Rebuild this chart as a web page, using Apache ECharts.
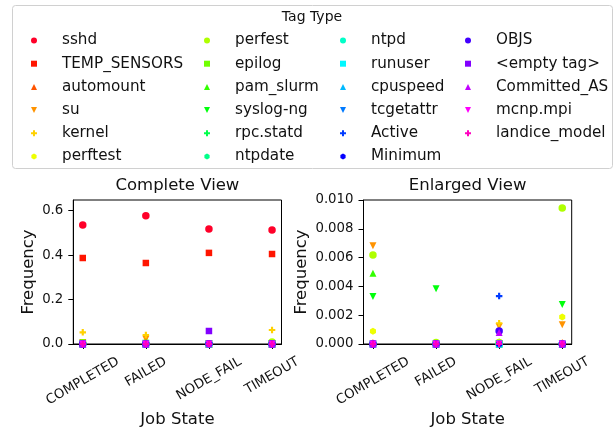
<!DOCTYPE html>
<html><head><meta charset="utf-8">
<script src="https://cdn.jsdelivr.net/npm/echarts@6/dist/echarts.min.js"></script>
<style>html,body{margin:0;padding:0;background:#fff}#c{width:615px;height:432px}</style>
</head><body><div id="c"></div>
<script>
// ---------------- DATA ----------------
const states = ['COMPLETED', 'FAILED', 'NODE_FAIL', 'TIMEOUT'];
const tags = ['sshd','TEMP_SENSORS','automount','su','kernel','perftest','perfest','epilog','pam_slurm','syslog-ng','rpc.statd','ntpdate','ntpd','runuser','cpuspeed','tcgetattr','Active','Minimum','OBJS','<empty tag>','Committed_AS','mcnp.mpi','landice_model'];
// frequency of each tag per job state (COMPLETED, FAILED, NODE_FAIL, TIMEOUT)
const fSshd         = [0.536, 0.577, 0.5175, 0.513];
const fTempSensors  = [0.387, 0.3645, 0.410, 0.405];
const fAutomount    = [0.0001, 0.013, 0.00016, 0.0001];
const fSu           = [0.00683, 0.021, 0.0012, 0.00134];
const fKernel       = [0.0525, 0.0405, 0.00144, 0.063];
const fPerftest     = [0.00088, 0.0001, 0.0001, 0.00188];
const fPerfest      = [0.00618, 0.0001, 0.0001, 0.00944];
const fEpilog       = [0, 0, 0, 0];
const fPamSlurm     = [0.00491, 0, 0, 0];
const fSyslogNg     = [0.00329, 0.00384, 0, 0.00275];
const fRpcStatd     = [0, 0, 0, 0];
const fNtpdate      = [0, 0, 0, 0];
const fNtpd         = [0, 0, 0, 0];
const fRunuser      = [0, 0, 0, 0];
const fCpuspeed     = [0, 0, 0, 0];
const fTcgetattr    = [0, 0, 0, 0];
const fActive       = [0, 0, 0.00333, 0];
const fMinimum      = [0, 0, 0, 0];
const fObjs         = [0, 0, 0.0009, 0];
const fEmptyTag     = [0, 0, 0.0585, 0];
const fCommittedAS  = [0, 0, 0.0008, 0];
const fMcnpMpi      = [0, 0, 0, 0];
const fLandiceModel = [0, 0, 0, 0];
const tagValues = [fSshd,fTempSensors,fAutomount,fSu,fKernel,fPerftest,fPerfest,fEpilog,fPamSlurm,fSyslogNg,fRpcStatd,fNtpdate,fNtpd,fRunuser,fCpuspeed,fTcgetattr,fActive,fMinimum,fObjs,fEmptyTag,fCommittedAS,fMcnpMpi,fLandiceModel];
const completeTicks = [0, 0.2, 0.4, 0.6];
const enlargedTicks = [0, 0.002, 0.004, 0.006, 0.008, 0.010];
const stateTicks = [0, 1, 2, 3];

// ---------------- STYLE ----------------
const colors = ['#ff0029','#ff1500','#ff5400','#ff9300','#ffd100','#eeff00','#afff00','#71ff00','#32ff00','#00ff0c','#00ff4b','#00ff89','#00ffc8','#00f8ff','#00b9ff','#007aff','#003bff','#0400ff','#4300ff','#8200ff','#c100ff','#ff00fe','#ff00bf'];
const markerCycle = [
  'circle',
  'path://M-1,-1H1V1H-1Z',
  'path://M0,-1L1,1L-1,1Z',
  'path://M-1,-1L1,-1L0,1Z',
  'path://M-1,-3H1V-1H3V1H1V3H-1V1H-3V-1H-1Z',
  'path://M0,-1L0.866,-0.5L0.866,0.5L0,1L-0.866,0.5L-0.866,-0.5Z'
];
const markerSize = [7.5, 6.5, 7, 7, 6.5, 7];
const FONT = 'DejaVu Sans';
const tickFont = 13.3;

// rotated x tick labels: matplotlib centres the rotated box under the tick, top-aligned
const ctx = document.createElement('canvas').getContext('2d');
ctx.font = tickFont + 'px "' + FONT + '"';
const rich = {};
states.forEach((s, i) => {
  const w = ctx.measureText(s).width;
  const h = tickFont * 1.17;
  const H = w * 0.5 + h * 0.866;
  const d = H / 2;
  rich['s' + i] = {padding: [d * 1.732, d, 0, 0], fontSize: tickFont, fontFamily: FONT, color: '#111'};
});

function xAxisFor(gi) {
  return {
    type: 'value', gridIndex: gi, min: -0.15, max: 3.15,
    name: 'Job State', nameLocation: 'middle', nameGap: 67,
    nameTextStyle: {fontSize: 16.5, fontFamily: FONT, color: '#111'},
    axisLine: {show: true, onZero: false, lineStyle: {color: '#000', width: 1}},
    axisTick: {show: true, inside: false, length: 5, customValues: stateTicks, lineStyle: {color: '#000'}},
    splitLine: {show: false},
    axisLabel: {
      customValues: stateTicks, rotate: 30, margin: 10, align: 'center', verticalAlign: 'middle',
      formatter: v => { const i = Math.round(v); return '{s' + i + '|' + states[i] + '}'; },
      rich: rich
    }
  };
}
function yAxisFor(gi, max, ticks, digits, gap) {
  return {
    type: 'value', gridIndex: gi, min: 0, max: max,
    name: 'Frequency', nameLocation: 'middle', nameGap: gap, nameRotate: 90,
    nameTextStyle: {fontSize: 16.5, fontFamily: FONT, color: '#111'},
    axisLine: {show: true, onZero: false, lineStyle: {color: '#000', width: 1}},
    axisTick: {show: true, inside: false, length: 5, customValues: ticks, lineStyle: {color: '#000'}},
    splitLine: {show: false},
    axisLabel: {customValues: ticks, margin: 10, fontSize: tickFont, fontFamily: FONT, color: '#111',
      formatter: v => v.toFixed(digits)}
  };
}

const series = [];
[0, 1].forEach(gi => {
  tags.forEach((t, i) => {
    series.push({
      type: 'scatter', name: t, xAxisIndex: gi, yAxisIndex: gi,
      symbol: markerCycle[i % 6], symbolSize: markerSize[i % 6], symbolKeepAspect: true,
      itemStyle: {color: colors[i], opacity: 1},
      emphasis: {disabled: true}, clip: true,
      data: tagValues[i].map((v, k) => [k, v])
    });
  });
});

// legend content box starts at the icon's left edge (icon centred in a 46px slot)
const legendLefts = [31, 204, 340, 465];
const legends = [0, 1, 2, 3].map(k => ({
  orient: 'vertical', left: legendLefts[k], top: 33, padding: 0,
  itemGap: 8.2, itemWidth: 46, itemHeight: 6, symbolKeepAspect: true, selectedMode: false,
  textStyle: {fontSize: 15.2, fontFamily: FONT, color: '#111'},
  data: tags.slice(k * 6, k * 6 + 6)
}));

const chart = echarts.init(document.getElementById('c'), null, {renderer: 'canvas'});
chart.setOption({
  animation: false,
  backgroundColor: '#fff',
  grid: [
    {left: 73.3, top: 200, width: 208.2, height: 144, show: true, borderColor: '#000', borderWidth: 1, containLabel: false},
    {left: 363.5, top: 200, width: 208.2, height: 144, show: true, borderColor: '#000', borderWidth: 1, containLabel: false}
  ],
  xAxis: [xAxisFor(0), xAxisFor(1)],
  yAxis: [yAxisFor(0, 0.648, completeTicks, 1, 36), yAxisFor(1, 0.010, enlargedTicks, 3, 53)],
  legend: legends,
  graphic: [
    {type: 'rect', shape: {x: 12.5, y: 5.5, width: 600, height: 163, r: 3}, style: {fill: 'none', stroke: '#d0d0d0', lineWidth: 1}, z: -1},
    {type: 'text', x: 312, y: 17, style: {text: 'Tag Type', font: '14px "' + FONT + '"', fill: '#111', align: 'center', verticalAlign: 'middle'}},
    {type: 'text', x: 177.4, y: 186, style: {text: 'Complete View', font: '16.5px "' + FONT + '"', fill: '#111', align: 'center', verticalAlign: 'middle'}},
    {type: 'text', x: 467.6, y: 186, style: {text: 'Enlarged View', font: '16.5px "' + FONT + '"', fill: '#111', align: 'center', verticalAlign: 'middle'}}
  ],
  series: series
});
</script>
</body></html>
